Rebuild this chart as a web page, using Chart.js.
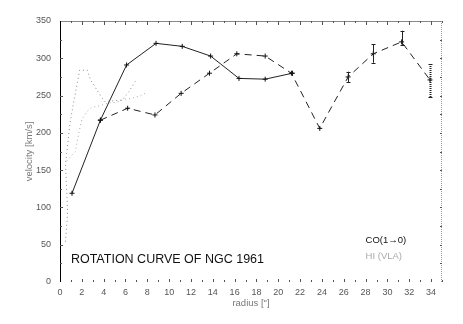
<!DOCTYPE html>
<html><head><meta charset="utf-8">
<script src="https://cdn.jsdelivr.net/npm/chart.js@4/dist/chart.umd.min.js"></script>
<style>html,body{margin:0;padding:0;background:#fff}#wrap{width:463px;height:324px}</style>
</head><body><div id="wrap"><canvas id="c" width="463" height="324"></canvas></div>
<script>
// CO(1-0) solid curve
const coR = [1.1, 3.7, 6.1, 8.8, 11.2, 13.8, 16.4, 18.8, 21.3];
const coV = [119, 217, 291, 320, 316, 303, 273, 272, 280];
// dashed curve
const dashR = [3.7, 6.2, 8.7, 11.1, 13.7, 16.2, 18.8, 21.2, 23.8, 26.4, 28.7, 31.3, 33.9];
const dashV = [217, 233, 224, 253, 280, 306, 303, 280, 206, 275, 306, 322, 271];
// error bars on dashed curve
const errR = [26.4, 28.7, 31.3, 33.9];
const errLo = [268, 294, 318, 248];
const errHi = [282, 319, 337, 293];
// gray dotted curves
const hi1R = [0.5, 0.7, 0.5, 0.9, 1.2, 1.5, 1.8, 2.5, 2.8, 3.4, 3.8, 4.1, 5.7, 6.3, 6.9];
const hi1V = [54, 94, 157, 211, 237, 260, 284, 284, 271, 257, 248, 242, 244, 255, 269];
const hi2R = [0.6, 1.4, 1.7, 2.0, 2.5, 2.9, 3.8, 4.4, 5.2, 5.9, 6.5, 7.4, 7.8];
const hi2V = [162, 175, 198, 218, 229, 234, 237, 240, 241, 245, 246, 250, 253];
// ticks
const xTicks = [0,2,4,6,8,10,12,14,16,18,20,22,24,26,28,30,32,34];
const yTicks = [0,50,100,150,200,250,300,350];
const titleText = "ROTATION CURVE OF NGC 1961";
const legendCO = "CO(1\u21920)";
const legendHI = "HI (VLA)";

const pts = (xs, ys) => xs.map((x, i) => ({x, y: ys[i]}));

const extras = {
  id: 'extras',
  afterDatasetsDraw(chart) {
    const ctx = chart.ctx, a = chart.chartArea;
    const xs = chart.scales.x, ys = chart.scales.y;
    ctx.save();
    // error bars
    ctx.strokeStyle = '#222'; ctx.lineWidth = 1;
    errR.forEach((r, i) => {
      const px = Math.round(xs.getPixelForValue(r)) + 0.5;
      const p1 = ys.getPixelForValue(errLo[i]), p2 = ys.getPixelForValue(errHi[i]);
      ctx.setLineDash(i === errR.length - 1 ? [1, 1] : []);
      ctx.lineWidth = i === errR.length - 1 ? 2 : 1;
      ctx.beginPath(); ctx.moveTo(px, p1); ctx.lineTo(px, p2); ctx.stroke();
      ctx.setLineDash([]); ctx.lineWidth = 1;
      ctx.beginPath();
      ctx.moveTo(px - 2, Math.round(p1) + 0.5); ctx.lineTo(px + 2, Math.round(p1) + 0.5);
      ctx.moveTo(px - 2, Math.round(p2) + 0.5); ctx.lineTo(px + 2, Math.round(p2) + 0.5);
      ctx.stroke();
    });
    // frame
    ctx.setLineDash([]);
    ctx.strokeStyle = '#888'; ctx.lineWidth = 1;
    ctx.beginPath(); ctx.moveTo(a.left, a.top + 0.5); ctx.lineTo(a.right, a.top + 0.5); ctx.stroke();
    ctx.setLineDash([1, 1]); ctx.strokeStyle = '#999';
    ctx.beginPath(); ctx.moveTo(a.right - 0.5, a.top); ctx.lineTo(a.right - 0.5, a.bottom); ctx.stroke();
    ctx.setLineDash([]);
    ctx.strokeStyle = '#000';
    ctx.beginPath(); ctx.moveTo(a.left + 0.5, a.top); ctx.lineTo(a.left + 0.5, a.bottom); ctx.stroke();
    // inward ticks
    ctx.strokeStyle = '#555';
    for (let v = 1; v <= 35; v++) {
      const px = Math.round(xs.getPixelForValue(v)) + 0.5;
      ctx.beginPath();
      ctx.moveTo(px, a.top); ctx.lineTo(px, a.top + (v % 2 === 0 ? 4 : 2));
      ctx.moveTo(px, a.bottom); ctx.lineTo(px, a.bottom - (v % 2 === 0 ? 3 : 2));
      ctx.stroke();
    }
    for (let v = 25; v < 350; v += 25) {
      const py = Math.round(ys.getPixelForValue(v)) + 0.5;
      ctx.beginPath();
      ctx.moveTo(a.left, py); ctx.lineTo(a.left + (v % 50 === 0 ? 3 : 2), py);
      ctx.moveTo(a.right, py); ctx.lineTo(a.right - 2, py);
      ctx.stroke();
    }
    // title and legend
    ctx.fillStyle = '#111';
    ctx.textBaseline = 'middle'; ctx.textAlign = 'left';
    ctx.font = '12.5px "Liberation Sans", Arial, sans-serif';
    ctx.fillText(titleText, xs.getPixelForValue(1), ys.getPixelForValue(30));
    ctx.font = '9.5px "Liberation Sans", Arial, sans-serif';
    ctx.fillText(legendCO, xs.getPixelForValue(28.0), ys.getPixelForValue(56));
    ctx.fillStyle = '#aaa';
    ctx.fillText(legendHI, xs.getPixelForValue(28.0), ys.getPixelForValue(35));
    ctx.restore();
  }
};

new Chart(document.getElementById('c'), {
  type: 'scatter',
  data: {
    datasets: [
      { data: pts(hi1R, hi1V), showLine: true, borderColor: '#888', borderWidth: 1, borderDash: [1, 3], pointRadius: 0, tension: 0 },
      { data: pts(hi2R, hi2V), showLine: true, borderColor: '#aaa', borderWidth: 1, borderDash: [1, 3], pointRadius: 0, tension: 0 },
      { data: pts(dashR, dashV), showLine: true, borderColor: '#222', borderWidth: 1, borderDash: [7, 5], pointStyle: 'cross', pointRadius: 2.5, pointBorderColor: '#111', pointBorderWidth: 1, tension: 0 },
      { data: pts(coR, coV), showLine: true, borderColor: '#222', borderWidth: 1, pointStyle: 'cross', pointRadius: 2.5, pointBorderColor: '#111', pointBorderWidth: 1, tension: 0 }
    ]
  },
  options: {
    responsive: false, animation: false,
    layout: { padding: { left: 0, right: 21, top: 21, bottom: 0 } },
    plugins: { legend: { display: false }, tooltip: { enabled: false } },
    scales: {
      x: {
        type: 'linear', min: 0, max: 35,
        afterBuildTicks: s => { s.ticks = xTicks.map(v => ({value: v})); },
        afterFit: s => { s.height = 42; },
        grid: { display: false, drawTicks: false },
        border: { display: false },
        ticks: { color: '#555', font: { size: 9, family: '"Liberation Sans", Arial' }, padding: 5, maxRotation: 0, autoSkip: false },
        title: { display: true, text: 'radius ["]', color: '#777', font: { size: 9.5, family: '"Liberation Sans", Arial' }, padding: { top: 15, bottom: 15 } }
      },
      y: {
        type: 'linear', min: 0, max: 350,
        afterBuildTicks: s => { s.ticks = yTicks.map(v => ({value: v})); },
        afterFit: s => { s.width = 60; },
        grid: { display: false, drawTicks: false },
        border: { display: false },
        ticks: { color: '#555', font: { size: 9, family: '"Liberation Sans", Arial' }, padding: 9 },
        title: { display: true, text: 'velocity [km/s]', color: '#777', font: { size: 9.5, family: '"Liberation Sans", Arial' }, padding: { top: 24, bottom: 24 } }
      }
    }
  },
  plugins: [extras]
});
</script>
</body></html>
